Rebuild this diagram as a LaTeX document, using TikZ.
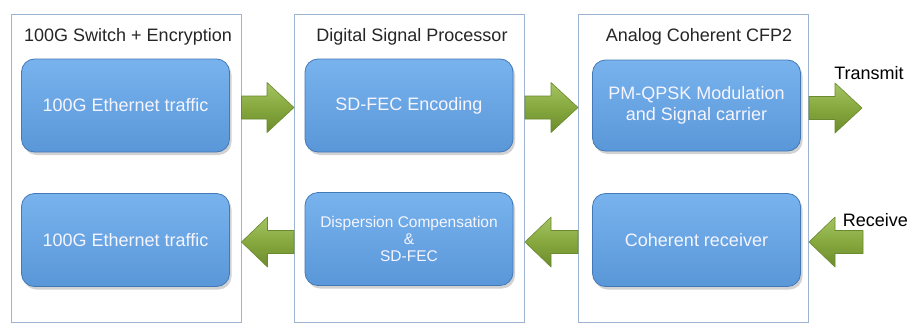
\documentclass[tikz,border=0pt]{standalone}
\usepackage{fontspec}
\setmainfont{Liberation Sans}
\usetikzlibrary{calc,shadows}
\definecolor{outerc}{HTML}{9DB3D1}
\definecolor{boxtop}{HTML}{78B3EE}
\definecolor{boxbot}{HTML}{5A97D8}
\definecolor{boxline}{HTML}{4479B8}
\definecolor{gtop}{HTML}{A4C463}
\definecolor{gmid}{HTML}{86A83E}
\definecolor{gbot}{HTML}{6C8C2C}
\definecolor{gline}{HTML}{6A8A2E}
\tikzset{
  outerbox/.style={draw=outerc, line width=1pt, minimum width=230pt, minimum height=308pt, inner sep=0pt},
  innerbox/.style={draw=boxline, line width=0.8pt, rounded corners=13pt, top color=boxtop, bottom color=boxbot,
    minimum width=208pt, minimum height=93pt, inner sep=2pt, align=center, text=white!96!blue,
    font=\fontsize{18}{21}\selectfont, drop shadow={shadow xshift=2pt, shadow yshift=-3pt, opacity=0.35}},
  titlet/.style={font=\fontsize{18}{21}\selectfont, text=black!85, inner sep=0pt},
  garrow/.style={draw=gline, line width=0.6pt, top color=gtop, bottom color=gbot, middle color=gmid, line join=round},
}
\newcommand{\rarrow}[2]{%
  \path[garrow] let \p1=(#1), \p2=(#2), \n1={\x2-27pt} in
    (\x1,\y1+11.5pt) -- (\n1,\y1+11.5pt) -- (\n1,\y1+25pt) -- (\x2,\y1) -- (\n1,\y1-25pt) -- (\n1,\y1-11.5pt) -- (\x1,\y1-11.5pt) -- cycle;}
\newcommand{\larrow}[2]{%
  \path[garrow] let \p1=(#1), \p2=(#2), \n1={\x2+26pt} in
    (\x1,\y1+11.5pt) -- (\n1,\y1+11.5pt) -- (\n1,\y1+25pt) -- (\x2,\y1) -- (\n1,\y1-25pt) -- (\n1,\y1-11.5pt) -- (\x1,\y1-11.5pt) -- cycle;}
\begin{document}
\begin{tikzpicture}[x=1pt,y=-1pt]
\useasboundingbox[fill=white] (0,0) rectangle (909,324);
% outer boxes
\node[outerbox] (o1) at (126,168) {};
\node[outerbox] (o2) at (409.5,168) {};
\node[outerbox] (o3) at (693.5,168) {};
% titles
\node[titlet] (t1) at (128,37) {100G Switch + Encryption};
\node[titlet] (t2) at (412,37) {Digital Signal Processor};
\node[titlet] (t3) at (699,37) {Analog Coherent CFP2};
% inner boxes
\node[innerbox] (a1) at (125.5,105.5) {100G Ethernet traffic};
\node[innerbox] (a2) at (125.5,240) {100G Ethernet traffic};
\node[innerbox] (b1) at (409,105.5) {SD-FEC Encoding};
\node[innerbox, font=\fontsize{15.5}{17}\selectfont] (b2) at (409,239) {Dispersion Compensation\\\&\\SD-FEC};
\node[innerbox, minimum height=91pt] (c1) at (696.5,105.5) {PM-QPSK Modulation\\and Signal carrier};
\node[innerbox] (c2) at (696.5,240) {Coherent receiver};
% labels
\node[titlet, text=black] (tx) at (869,73) {Transmit};
\node[titlet, text=black, anchor=east] (rx) at (908,220) {Receive};
% arrow rows and end points
\coordinate (ty) at (0,107.5);
\coordinate (by) at (0,242);
\coordinate (txe) at (862,108);
\coordinate (rxs) at (863,242);
% arrows
\rarrow{o1.east|-ty}{o2.west|-ty}
\rarrow{o2.east|-ty}{o3.west|-ty}
\rarrow{o3.east|-txe}{txe}
\larrow{rxs}{o3.east|-rxs}
\larrow{o3.west|-by}{o2.east|-by}
\larrow{o2.west|-by}{o1.east|-by}
\end{tikzpicture}
\end{document}
